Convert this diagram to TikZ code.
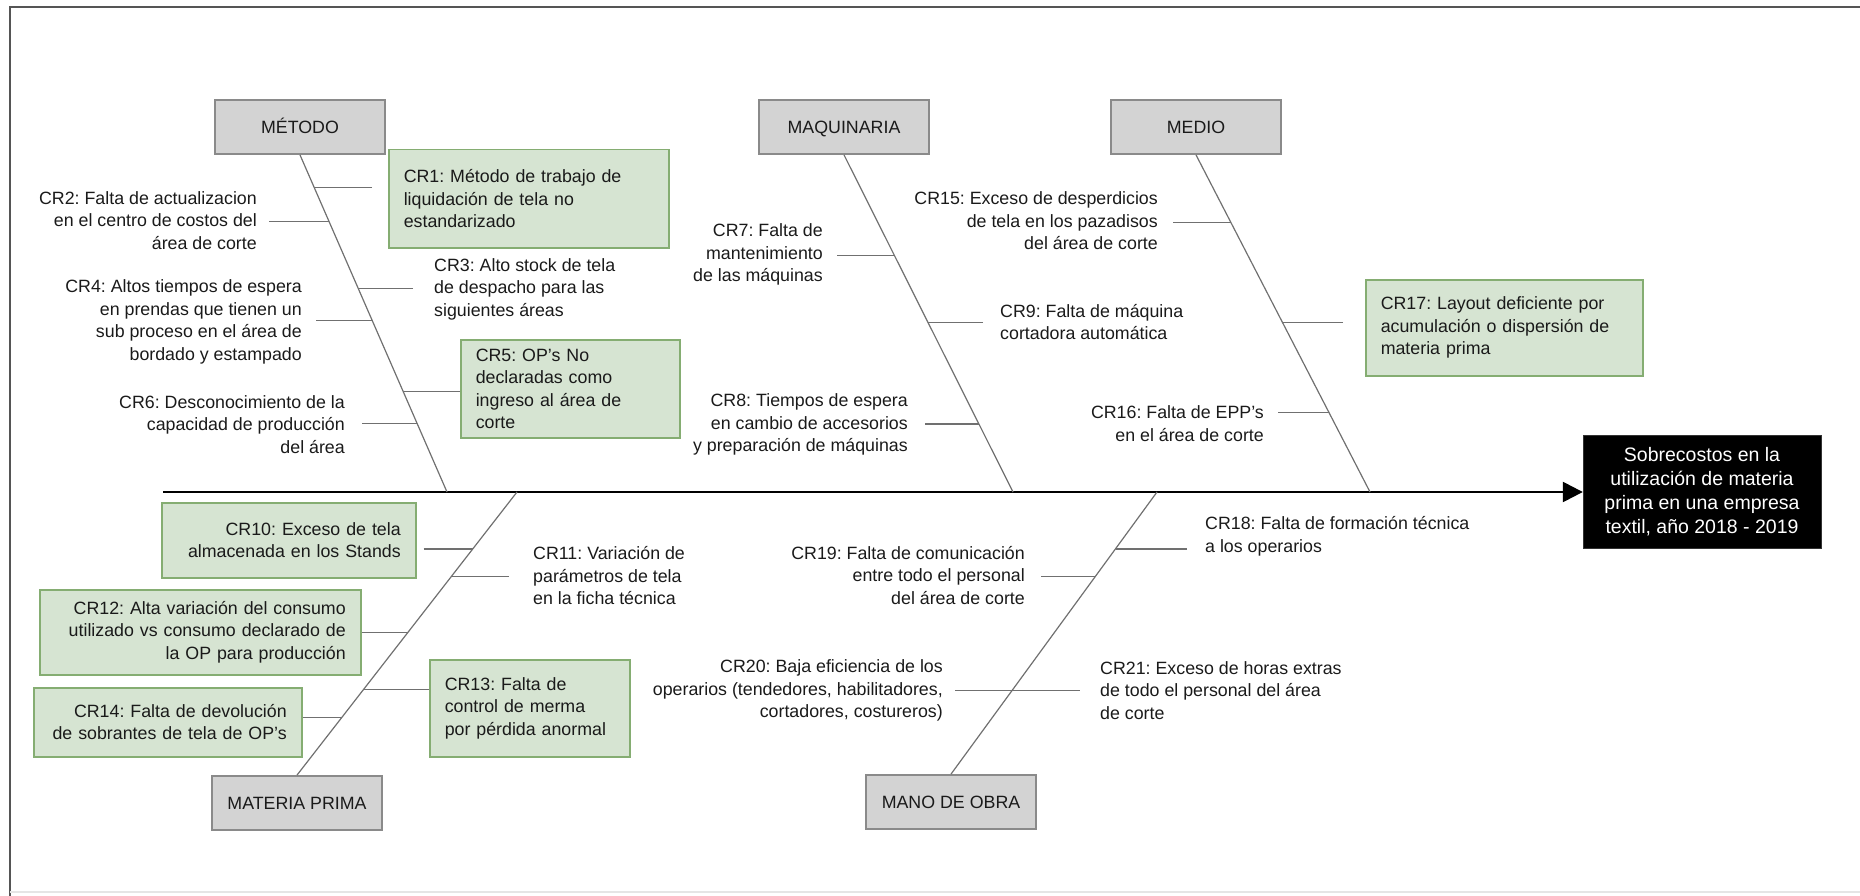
\documentclass[tikz,border=0pt]{standalone}
\usepackage{fontspec}
\setmainfont{Liberation Sans}
\usetikzlibrary{arrows.meta,calc}
\frenchspacing
\definecolor{txt}{HTML}{1A1A1A}
\definecolor{gfill}{HTML}{D6E4D2}
\definecolor{gdraw}{HTML}{85AD72}
\definecolor{cfill}{HTML}{D3D3D3}
\definecolor{cdraw}{HTML}{8A8A8A}
\definecolor{lgray}{HTML}{707070}
\definecolor{framec}{HTML}{555555}
\begin{document}
\frenchspacing
\begin{tikzpicture}[x=1pt,y=-1pt,
  every node/.style={font=\fontsize{17.8}{22.5}\selectfont\frenchspacing, text=txt, inner sep=0pt},
  cat/.style={draw=cdraw, fill=cfill, line width=1.8pt, minimum width=170pt, minimum height=54pt,
    text height=12.5pt, text depth=0pt},
  gbox/.style={draw=gdraw, fill=gfill, line width=1.5pt, inner xsep=15pt, inner ysep=0pt, anchor=north west},
  lt/.style={align=left, anchor=west},
  rt/.style={align=right, anchor=east},
  spine/.style={draw=lgray, line width=1.2pt},
  branch/.style={draw=lgray, line width=1.4pt},
  axis/.style={draw=black, line width=2.5pt, -{Triangle[length=20pt,width=20pt]}},
]
\useasboundingbox (0,0) rectangle (1860,896);
% frame
\draw[line width=2.5pt, draw=framec] (1860,7) -- (10,7) -- (10,896);
\draw[line width=1.5pt, draw=black!10] (10,892) -- (1860,892);

% category boxes
\node[cat] (met) at (300,127) {MÉTODO};
\node[cat] (maq) at (844,127) {MAQUINARIA};
\node[cat] (med) at (1196,127) {MEDIO};
\node[cat] (mp) at (297,803) {MATERIA PRIMA};
\node[cat] (mo) at (951,802) {MANO DE OBRA};

% result
\node[draw=black!80, fill=black, text=white, minimum width=238pt, minimum height=113pt,
  align=center, font=\fontsize{19.5}{24}\selectfont\frenchspacing] (res) at (1702,492)
  {Sobrecostos en la\\utilización de materia\\prima en una empresa\\textil, año 2018 - 2019};

% axis
\coordinate (ax0) at (163,492);
\coordinate (a1) at (447,492);
\coordinate (a2) at (1013,492);
\coordinate (a3) at (1370,492);
\coordinate (a4) at (517,492);
\coordinate (a5) at (1157,492);
\draw[axis] (ax0) -- (res.west);

% spines
\draw[spine] (met.south) -- (a1);
\draw[spine] (maq.south) -- (a2);
\draw[spine] (med.south) -- (a3);
\draw[spine] (mp.north) -- (a4);
\draw[spine] (mo.north) -- (a5);

% points on spines
\coordinate (s1) at ($(met.south)!0.0976!(a1)$);
\coordinate (s2) at ($(met.south)!0.1982!(a1)$);
\coordinate (s3) at ($(met.south)!0.3964!(a1)$);
\coordinate (s4) at ($(met.south)!0.4911!(a1)$);
\coordinate (s5) at ($(met.south)!0.7012!(a1)$);
\coordinate (s6) at ($(met.south)!0.7959!(a1)$);
\coordinate (s7) at ($(maq.south)!0.2988!(a2)$);
\coordinate (s9) at ($(maq.south)!0.4970!(a2)$);
\coordinate (s8) at ($(maq.south)!0.7988!(a2)$);
\coordinate (s15) at ($(med.south)!0.2012!(a3)$);
\coordinate (s17) at ($(med.south)!0.4970!(a3)$);
\coordinate (s16) at ($(med.south)!0.7633!(a3)$);
\coordinate (s10) at ($(mp.north)!0.7993!(a4)$);
\coordinate (s11) at ($(mp.north)!0.7007!(a4)$);
\coordinate (s12) at ($(mp.north)!0.5035!(a4)$);
\coordinate (s13) at ($(mp.north)!0.3028!(a4)$);
\coordinate (s14) at ($(mp.north)!0.2042!(a4)$);
\coordinate (s18) at ($(mo.north)!0.7986!(a5)$);
\coordinate (s19) at ($(mo.north)!0.6996!(a5)$);
\coordinate (s20) at ($(mo.north)!0.2968!(a5)$);

% green boxes
\node[gbox, text width=250pt, minimum height=98pt, align=left] (cr1) at (388,149)
  {CR1: Método de trabajo de\\liquidación de tela no\\estandarizado};
\node[gbox, text width=189pt, minimum height=98pt, align=left] (cr5) at (460,339)
  {CR5: OP's No\\declaradas como\\ingreso al área de\\corte};
\node[gbox, text width=247pt, minimum height=96pt, align=left] (cr17) at (1365,279)
  {CR17: Layout deficiente por\\acumulación o dispersión de\\materia prima};
\node[gbox, text width=224pt, minimum height=75pt, align=right] (cr10) at (161,502)
  {CR10: Exceso de tela\\almacenada en los Stands};
\node[gbox, text width=291pt, minimum height=85pt, align=right] (cr12) at (39,589)
  {CR12: Alta variación del consumo\\utilizado vs consumo declarado de\\la OP para producción};
\node[gbox, text width=170pt, minimum height=97pt, align=left] (cr13) at (429,659)
  {CR13: Falta de\\control de merma\\por pérdida anormal};
\node[gbox, text width=238pt, minimum height=69pt, align=right] (cr14) at (33,687)
  {CR14: Falta de devolución\\de sobrantes de tela de OP's};

% free texts
\node[rt] (cr2) at (257,220.5) {CR2: Falta de actualizacion\\en el centro de costos del\\área de corte};
\node[lt] (cr3) at (434,289) {CR3: Alto stock de tela\\de despacho para las\\siguientes áreas};
\node[rt] (cr4) at (302,322) {CR4: Altos tiempos de espera\\en prendas que tienen un\\sub proceso en el área de\\bordado y estampado};
\node[rt] (cr6) at (345,424.5) {CR6: Desconocimiento de la\\capacidad de producción\\del área};
\node[rt] (cr7) at (823,254.5) {CR7: Falta de\\mantenimiento\\de las máquinas};
\node[rt] (cr8) at (908,424.5) {CR8: Tiempos de espera\\en cambio de accesorios\\y preparación de máquinas};
\node[lt] (cr9) at (1000,322) {CR9: Falta de máquina\\cortadora automática};
\node[rt] (cr15) at (1158,221) {CR15: Exceso de desperdicios\\de tela en los pazadisos\\del área de corte};
\node[rt] (cr16) at (1264,423.5) {CR16: Falta de EPP's\\en el área de corte};
\node[lt] (cr11) at (533,576) {CR11: Variación de\\parámetros de tela\\en la ficha técnica};
\node[lt] (cr18) at (1205,536.5) {CR18: Falta de formación técnica\\a los operarios};
\node[rt] (cr19) at (1025,575.5) {CR19: Falta de comunicación\\entre todo el personal\\del área de corte};
\node[rt] (cr20) at (943,690.5) {CR20: Baja eficiencia de los\\operarios (tendedores, habilitadores,\\cortadores, costureros)};
\node[lt] (cr21) at (1100,690.5) {CR21: Exceso de horas extras\\de todo el personal del área\\de corte};

% branches
\draw[branch] ($(cr1.west |- s1)+(-16,0)$) -- (s1);
\draw[branch] ($(cr2.east |- s2)+(12,0)$) -- (s2);
\draw[branch] ($(cr3.west |- s3)+(-21,0)$) -- (s3);
\draw[branch] ($(cr4.east |- s4)+(14,0)$) -- (s4);
\draw[branch] (cr5.west |- s5) -- (s5);
\draw[branch] ($(cr6.east |- s6)+(17,0)$) -- (s6);
\draw[branch] ($(cr7.east |- s7)+(14,0)$) -- (s7);
\draw[branch] ($(cr9.west |- s9)+(-17,0)$) -- (s9);
\draw[branch] ($(cr8.east |- s8)+(17,0)$) -- (s8);
\draw[branch] ($(cr15.east |- s15)+(15,0)$) -- (s15);
\draw[branch] ($(cr17.west |- s17)+(-22,0)$) -- (s17);
\draw[branch] ($(cr16.east |- s16)+(14,0)$) -- (s16);
\draw[branch] ($(cr10.east |- s10)+(7,0)$) -- (s10);
\draw[branch] ($(cr11.west |- s11)+(-24,0)$) -- (s11);
\draw[branch] (cr12.east |- s12) -- (s12);
\draw[branch] (cr13.west |- s13) -- (s13);
\draw[branch] (cr14.east |- s14) -- (s14);
\draw[branch] ($(cr18.west |- s18)+(-18,0)$) -- (s18);
\draw[branch] ($(cr19.east |- s19)+(16,0)$) -- (s19);
\draw[branch] ($(cr20.east |- s20)+(12,0)$) -- (s20);
\draw[branch] (s20) -- ($(cr21.west |- s20)+(-20,0)$);
\end{tikzpicture}
\end{document}
